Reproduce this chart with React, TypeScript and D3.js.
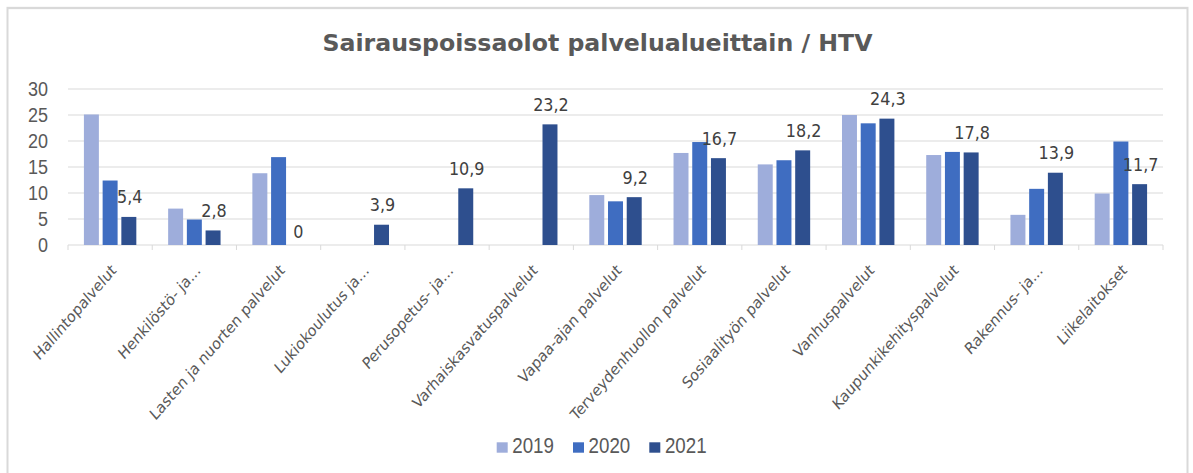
import React from "react";
import * as d3 from "d3";

const categories = [
  "Hallintopalvelut",
  "Henkilöstö- ja...",
  "Lasten ja nuorten palvelut",
  "Lukiokoulutus ja...",
  "Perusopetus- ja...",
  "Varhaiskasvatuspalvelut",
  "Vapaa-ajan palvelut",
  "Terveydenhuollon palvelut",
  "Sosiaalityön palvelut",
  "Vanhuspalvelut",
  "Kaupunkikehityspalvelut",
  "Rakennus- ja...",
  "Liikelaitokset",
];
const years = ["2019", "2020", "2021"];
const values2019: (number | null)[] = [25.1, 7.0, 13.8, null, null, null, 9.6, 17.7, 15.5, 25.0, 17.3, 5.8, 9.9];
const values2020: (number | null)[] = [12.4, 4.9, 16.9, null, null, null, 8.4, 19.8, 16.3, 23.4, 17.9, 10.8, 19.9];
const values2021: (number | null)[] = [5.4, 2.8, 0, 3.9, 10.9, 23.2, 9.2, 16.7, 18.2, 24.3, 17.8, 13.9, 11.7];
const labels2021 = ["5,4", "2,8", "0", "3,9", "10,9", "23,2", "9,2", "16,7", "18,2", "24,3", "17,8", "13,9", "11,7"];
const yTicks = [0, 5, 10, 15, 20, 25, 30];
const title = "Sairauspoissaolot palvelualueittain / HTV";

const colors = ["#9eaddb", "#3f6dc1", "#2e4f8e"];
const textColor = "#595959";
const gridColor = "#d9d9d9";

const W = 1193;
const H = 473;
const S = 1.15; // vertical stretch of the original picture
const IH = H / S;

export default function App() {
  const series = [values2019, values2020, values2021];

  const x = d3.scaleBand<string>().domain(categories).range([68, 1163]).padding(0);
  const xs = d3
    .scaleBand<string>()
    .domain(years)
    .range([0, x.bandwidth()])
    .paddingInner(0.2)
    .paddingOuter(0.85);
  const y = d3.scaleLinear().domain([0, 30]).range([245 / S, 89 / S]);

  const legendX = d3.scaleBand<string>().domain(years).range([496.7, 496.7 + 76.3 * 3]);

  return (
    <svg
      width={W}
      height={H}
      style={{ position: "absolute", left: 0, top: 0, background: "#fff" }}
    >
      <rect x={0} y={0} width={W} height={H} fill="#fff" />
      <g transform={`scale(1,${S})`}>
        <rect
          x={7.5}
          y={8 / S}
          width={1180}
          height={IH + 20}
          fill="#fff"
          stroke="#d9d9d9"
          strokeWidth={2}
        />
        <text
          x={597.5}
          y={51.5 / S}
          textAnchor="middle"
          fontFamily="DejaVu Sans"
          fontWeight="bold"
          fontSize={20.5}
          fill={textColor}
          textLength={550}
          lengthAdjust="spacingAndGlyphs"
        >
          {title}
        </text>

        {/* gridlines */}
        {yTicks.map((t) => (
          <line
            key={"g" + t}
            x1={68}
            x2={1163}
            y1={y(t)}
            y2={y(t)}
            stroke={gridColor}
            strokeWidth={1}
          />
        ))}
        {/* y labels */}
        {yTicks.map((t) => (
          <text
            key={"yl" + t}
            x={48}
            y={y(t)}
            dy="0.36em"
            textAnchor="end"
            fontFamily="Liberation Sans"
            fontSize={18}
            fill={textColor}
          >
            {t}
          </text>
        ))}
        {/* x ticks */}
        {d3.range(categories.length + 1).map((i) => {
          const xx = 68 + i * x.step();
          return (
            <line
              key={"xt" + i}
              x1={xx}
              x2={xx}
              y1={y(0)}
              y2={y(0) + 5 / S}
              stroke={gridColor}
              strokeWidth={1}
            />
          );
        })}

        {/* bars */}
        {series.map((vals, si) =>
          vals.map((v, ci) =>
            v === null ? null : (
              <rect
                key={`b${si}-${ci}`}
                x={(x(categories[ci]) as number) + (xs(years[si]) as number)}
                y={y(v)}
                width={xs.bandwidth()}
                height={y(0) - y(v)}
                fill={colors[si]}
              />
            )
          )
        )}

        {/* data labels 2021 */}
        {values2021.map((v, ci) =>
          v === null ? null : (
            <text
              key={"dl" + ci}
              x={(x(categories[ci]) as number) + (xs("2021") as number) + xs.bandwidth() / 2 + 1}
              y={y(v) - (v > 0 ? 13.5 : 7) / S}
              textAnchor="middle"
              fontFamily="DejaVu Sans"
              fontSize={16}
              fill="#404040"
            >
              {labels2021[ci]}
            </text>
          )
        )}

        {/* category labels */}
        {categories.map((c) => {
          const cx = (x(c) as number) + x.bandwidth() / 2;
          return (
            <text
              key={"cl" + c}
              transform={`translate(${cx + 7},${236}) rotate(-45)`}
              textAnchor="end"
              fontFamily="DejaVu Sans"
              fontSize={14}
              fill={textColor}
            >
              {c}
            </text>
          );
        })}

        {/* legend */}
        {years.map((yr, i) => {
          const lx = legendX(yr) as number;
          return (
            <g key={"lg" + yr}>
              <rect x={lx} y={442.3 / S} width={11} height={10.4 / S} fill={colors[i]} />
              <text
                x={lx + 15.6}
                y={453.3 / S}
                fontFamily="Liberation Sans"
                fontSize={18.75}
                fill={textColor}
              >
                {yr}
              </text>
            </g>
          );
        })}
      </g>
    </svg>
  );
}
